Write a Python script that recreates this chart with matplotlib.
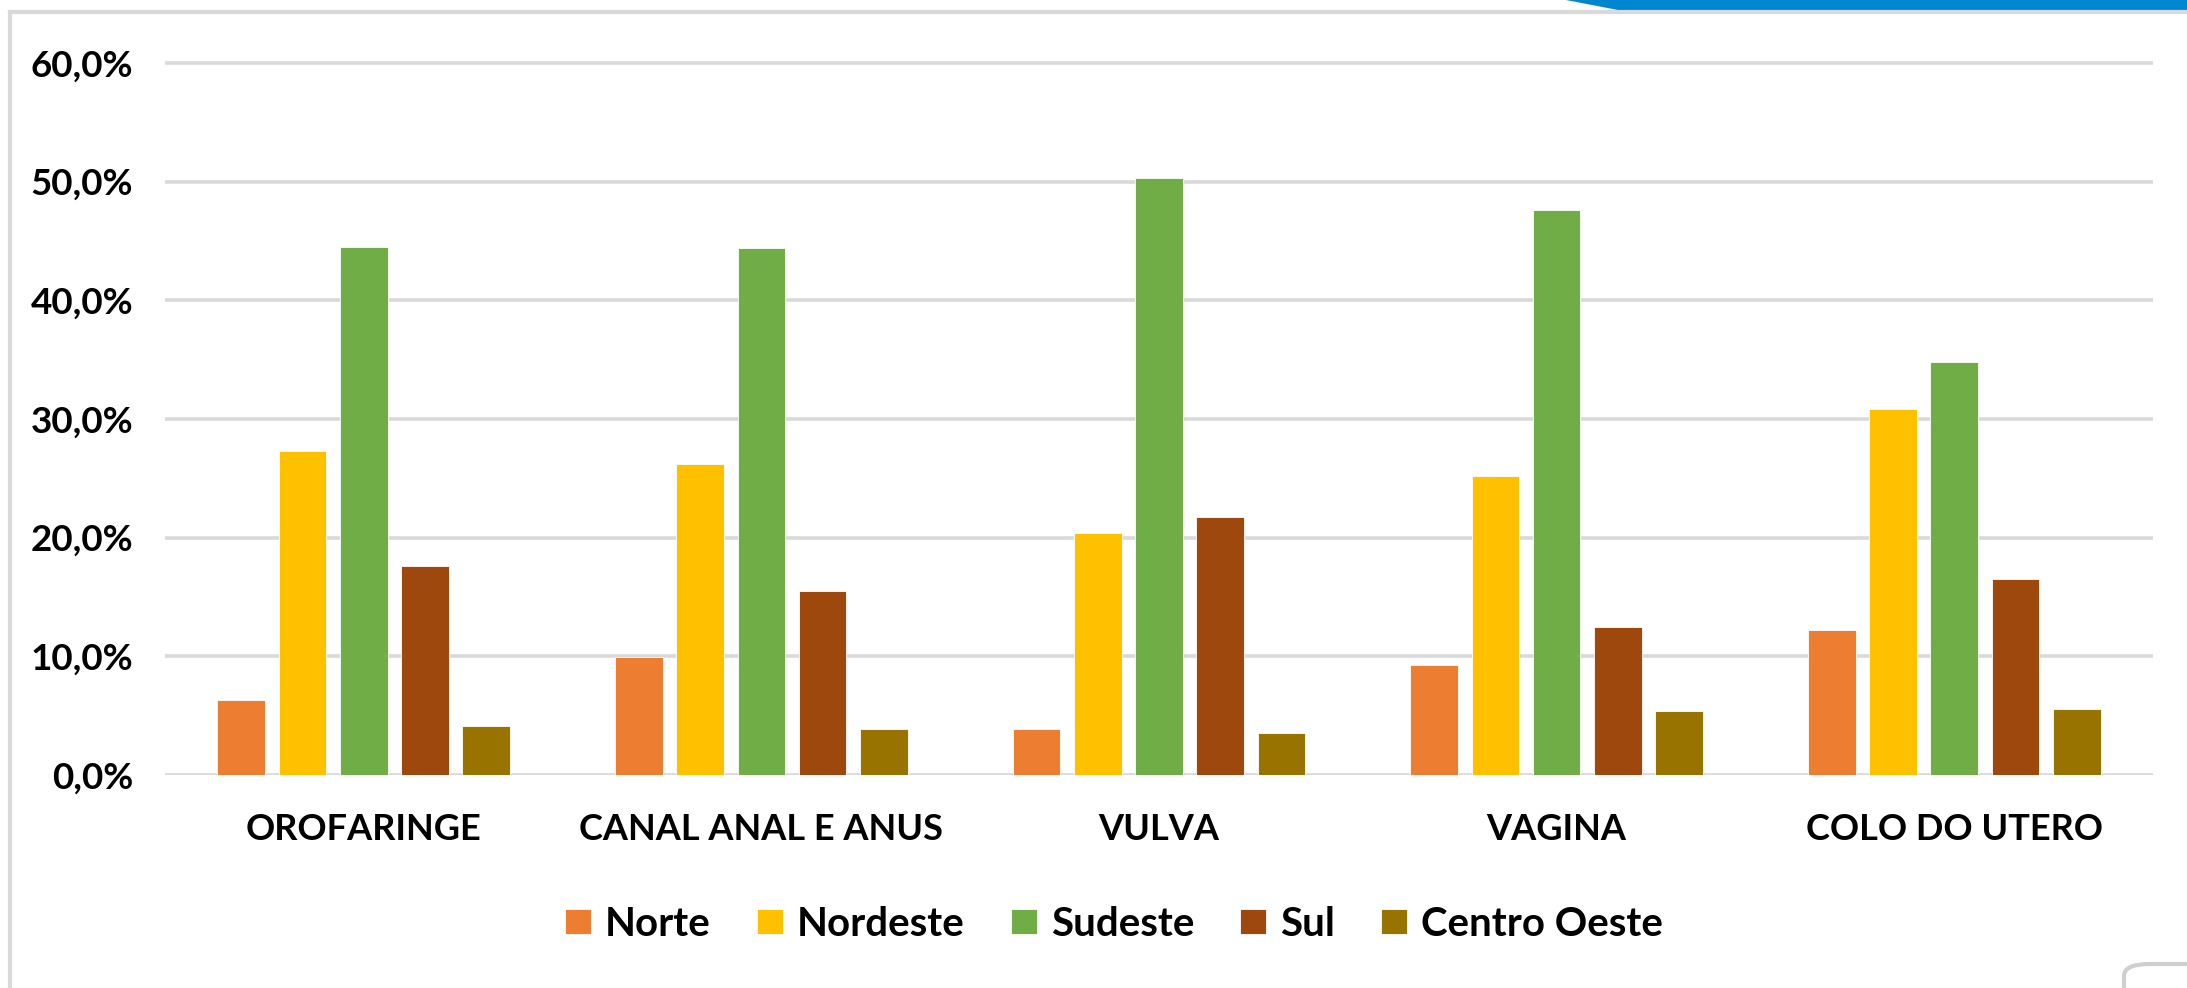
import numpy as np
import matplotlib.pyplot as plt
from matplotlib.patches import Polygon, FancyBboxPatch
from matplotlib.lines import Line2D

# --- data (percent) ---
categorias = ["OROFARINGE", "CANAL ANAL E ANUS", "VULVA", "VAGINA", "COLO DO UTERO"]
regioes = ["Norte", "Nordeste", "Sudeste", "Sul", "Centro Oeste"]
norte = [6.3, 9.9, 3.9, 9.3, 12.2]
nordeste = [27.3, 26.2, 20.4, 25.2, 30.8]
sudeste = [44.5, 44.4, 50.3, 47.6, 34.8]
sul = [17.6, 15.5, 21.7, 12.5, 16.5]
centro_oeste = [4.1, 3.9, 3.5, 5.4, 5.6]
yticks = [0, 10, 20, 30, 40, 50, 60]

series = [norte, nordeste, sudeste, sul, centro_oeste]
cores = ["#ED7D31", "#FFC000", "#70AD47", "#9E480E", "#997300"]

plt.rcParams['font.family'] = ['Lato', 'DejaVu Sans']
plt.rcParams['font.weight'] = 'bold'

W, H = 2187, 988
fig = plt.figure(figsize=(W / 100, H / 100), dpi=100)
fig.patch.set_facecolor("white")

# axes placed in pixel terms: x 165..2153, 0% at y=775, 10% = 118.7 px
y0_px, per10 = 775, 118.7
ytop = 61
top_px = y0_px - per10 * ytop / 10
ax = fig.add_axes([165 / W, 1 - y0_px / H, (2153 - 165) / W, (y0_px - top_px) / H])

x = np.arange(len(categorias))
step, largura = 0.154, 0.12
for k, (vals, cor, nome) in enumerate(zip(series, cores, regioes)):
    ax.bar(x + (k - 2) * step, vals, width=largura, color=cor, label=nome,
           edgecolor="white", linewidth=0.6, zorder=3)

ax.set_xlim(-0.5, len(categorias) - 0.5)
ax.set_ylim(0, ytop)
ax.set_yticks(yticks)
ax.set_yticklabels([f"{v:.1f}%".replace(".", ",") for v in yticks])
ax.set_xticks(x)
ax.set_xticklabels(categorias)
ax.tick_params(axis="y", length=0, pad=23, labelsize=26.5)
ax.tick_params(axis="x", length=0, pad=27, labelsize=26)
ax.yaxis.grid(True, color="#d9d9d9", linewidth=2.6, zorder=0)
ax.set_axisbelow(True)
for s in ax.spines.values():
    s.set_visible(False)

# legend below the plot
fig.legend(loc="center", bbox_to_anchor=(1114 / W, 1 - 924 / H), ncol=5,
           frameon=False, fontsize=29, handlelength=0.64, handleheight=0.6,
           handletextpad=0.35, columnspacing=1.15, borderaxespad=0)

# outer frame and decorations of the screenshot
fig.add_artist(Line2D([10 / W, 10 / W], [0, 1 - 12 / H], color="#d9d9d9",
                      linewidth=3, transform=fig.transFigure))
fig.add_artist(Line2D([10 / W, 1], [1 - 12 / H, 1 - 12 / H], color="#d9d9d9",
                      linewidth=3, transform=fig.transFigure))
fig.add_artist(Polygon([[1566 / W, 1], [1, 1], [1, 1 - 10 / H], [1618 / W, 1 - 10 / H]],
                       closed=True, facecolor="#0086CF", edgecolor="none",
                       transform=fig.transFigure))
fig.add_artist(FancyBboxPatch((2124 / W, -20 / H), 120 / W, 44 / H,
                              boxstyle="round,pad=0,rounding_size=0.012",
                              facecolor="white", edgecolor="#cfcfcf", linewidth=3,
                              transform=fig.transFigure))

fig.savefig("out.png", dpi=100, facecolor="white")
